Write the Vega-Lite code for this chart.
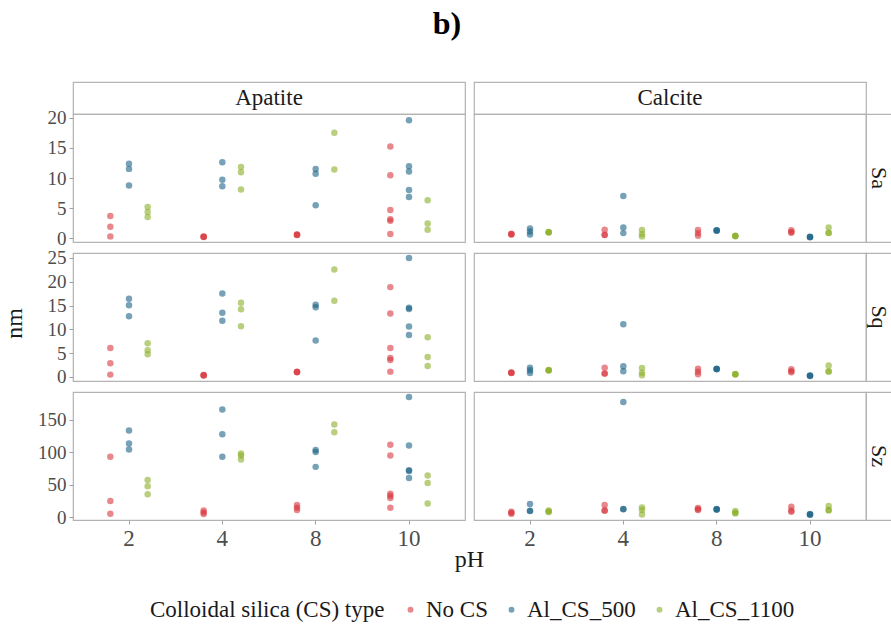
{
"$schema": "https://vega.github.io/schema/vega-lite/v6.json",
"padding": {"left": 1, "top": 8, "right": 0, "bottom": 0},
"title": {"text": "b)", "fontSize": 32, "fontWeight": "bold", "font": "Liberation Serif", "anchor": "middle", "offset": 40, "color": "#000000"},
"datasets": {"pts": [
{"m":"Apatite","v":"Sa","pH":2,"cs":"No CS","nm":3.72},{"m":"Apatite","v":"Sa","pH":2,"cs":"No CS","nm":1.91},{"m":"Apatite","v":"Sa","pH":2,"cs":"No CS","nm":0.33},
{"m":"Apatite","v":"Sa","pH":2,"cs":"Al_CS_500","nm":12.38},{"m":"Apatite","v":"Sa","pH":2,"cs":"Al_CS_500","nm":11.51},{"m":"Apatite","v":"Sa","pH":2,"cs":"Al_CS_500","nm":8.77},
{"m":"Apatite","v":"Sa","pH":2,"cs":"Al_CS_1100","nm":5.2},{"m":"Apatite","v":"Sa","pH":2,"cs":"Al_CS_1100","nm":4.38},{"m":"Apatite","v":"Sa","pH":2,"cs":"Al_CS_1100","nm":3.55},
{"m":"Apatite","v":"Sa","pH":4,"cs":"No CS","nm":0.22},{"m":"Apatite","v":"Sa","pH":4,"cs":"No CS","nm":0.27},{"m":"Apatite","v":"Sa","pH":4,"cs":"No CS","nm":0.3},
{"m":"Apatite","v":"Sa","pH":4,"cs":"Al_CS_500","nm":12.6},{"m":"Apatite","v":"Sa","pH":4,"cs":"Al_CS_500","nm":9.7},{"m":"Apatite","v":"Sa","pH":4,"cs":"Al_CS_500","nm":8.65},
{"m":"Apatite","v":"Sa","pH":4,"cs":"Al_CS_1100","nm":11.84},{"m":"Apatite","v":"Sa","pH":4,"cs":"Al_CS_1100","nm":10.95},{"m":"Apatite","v":"Sa","pH":4,"cs":"Al_CS_1100","nm":8.1},
{"m":"Apatite","v":"Sa","pH":8,"cs":"No CS","nm":0.55},{"m":"Apatite","v":"Sa","pH":8,"cs":"No CS","nm":0.6},{"m":"Apatite","v":"Sa","pH":8,"cs":"No CS","nm":0.65},
{"m":"Apatite","v":"Sa","pH":8,"cs":"Al_CS_500","nm":11.5},{"m":"Apatite","v":"Sa","pH":8,"cs":"Al_CS_500","nm":10.7},{"m":"Apatite","v":"Sa","pH":8,"cs":"Al_CS_500","nm":5.48},
{"m":"Apatite","v":"Sa","pH":8,"cs":"Al_CS_1100","nm":17.5},{"m":"Apatite","v":"Sa","pH":8,"cs":"Al_CS_1100","nm":11.4},
{"m":"Apatite","v":"Sa","pH":10,"cs":"No CS","nm":15.2},{"m":"Apatite","v":"Sa","pH":10,"cs":"No CS","nm":10.46},{"m":"Apatite","v":"Sa","pH":10,"cs":"No CS","nm":4.7},{"m":"Apatite","v":"Sa","pH":10,"cs":"No CS","nm":3.17},{"m":"Apatite","v":"Sa","pH":10,"cs":"No CS","nm":2.9},{"m":"Apatite","v":"Sa","pH":10,"cs":"No CS","nm":0.71},
{"m":"Apatite","v":"Sa","pH":10,"cs":"Al_CS_500","nm":19.57},{"m":"Apatite","v":"Sa","pH":10,"cs":"Al_CS_500","nm":11.94},{"m":"Apatite","v":"Sa","pH":10,"cs":"Al_CS_500","nm":11.07},{"m":"Apatite","v":"Sa","pH":10,"cs":"Al_CS_500","nm":8.0},{"m":"Apatite","v":"Sa","pH":10,"cs":"Al_CS_500","nm":6.84},
{"m":"Apatite","v":"Sa","pH":10,"cs":"Al_CS_1100","nm":6.3},{"m":"Apatite","v":"Sa","pH":10,"cs":"Al_CS_1100","nm":2.47},{"m":"Apatite","v":"Sa","pH":10,"cs":"Al_CS_1100","nm":1.41},

{"m":"Calcite","v":"Sa","pH":2,"cs":"No CS","nm":0.65},{"m":"Calcite","v":"Sa","pH":2,"cs":"No CS","nm":0.7},{"m":"Calcite","v":"Sa","pH":2,"cs":"No CS","nm":0.75},
{"m":"Calcite","v":"Sa","pH":2,"cs":"Al_CS_500","nm":1.64},{"m":"Calcite","v":"Sa","pH":2,"cs":"Al_CS_500","nm":1.15},{"m":"Calcite","v":"Sa","pH":2,"cs":"Al_CS_500","nm":0.66},
{"m":"Calcite","v":"Sa","pH":2,"cs":"Al_CS_1100","nm":0.98},{"m":"Calcite","v":"Sa","pH":2,"cs":"Al_CS_1100","nm":1.02},{"m":"Calcite","v":"Sa","pH":2,"cs":"Al_CS_1100","nm":1.06},
{"m":"Calcite","v":"Sa","pH":4,"cs":"No CS","nm":1.41},{"m":"Calcite","v":"Sa","pH":4,"cs":"No CS","nm":0.54},{"m":"Calcite","v":"Sa","pH":4,"cs":"No CS","nm":0.6},
{"m":"Calcite","v":"Sa","pH":4,"cs":"Al_CS_500","nm":7.0},{"m":"Calcite","v":"Sa","pH":4,"cs":"Al_CS_500","nm":1.81},{"m":"Calcite","v":"Sa","pH":4,"cs":"Al_CS_500","nm":0.87},
{"m":"Calcite","v":"Sa","pH":4,"cs":"Al_CS_1100","nm":1.37},{"m":"Calcite","v":"Sa","pH":4,"cs":"Al_CS_1100","nm":0.71},{"m":"Calcite","v":"Sa","pH":4,"cs":"Al_CS_1100","nm":0.33},
{"m":"Calcite","v":"Sa","pH":8,"cs":"No CS","nm":1.37},{"m":"Calcite","v":"Sa","pH":8,"cs":"No CS","nm":0.87},{"m":"Calcite","v":"Sa","pH":8,"cs":"No CS","nm":0.43},
{"m":"Calcite","v":"Sa","pH":8,"cs":"Al_CS_500","nm":1.25},{"m":"Calcite","v":"Sa","pH":8,"cs":"Al_CS_500","nm":1.3},{"m":"Calcite","v":"Sa","pH":8,"cs":"Al_CS_500","nm":1.35},
{"m":"Calcite","v":"Sa","pH":8,"cs":"Al_CS_1100","nm":0.35},{"m":"Calcite","v":"Sa","pH":8,"cs":"Al_CS_1100","nm":0.38},{"m":"Calcite","v":"Sa","pH":8,"cs":"Al_CS_1100","nm":0.42},
{"m":"Calcite","v":"Sa","pH":10,"cs":"No CS","nm":1.36},{"m":"Calcite","v":"Sa","pH":10,"cs":"No CS","nm":1.05},{"m":"Calcite","v":"Sa","pH":10,"cs":"No CS","nm":0.92},
{"m":"Calcite","v":"Sa","pH":10,"cs":"Al_CS_500","nm":0.2},{"m":"Calcite","v":"Sa","pH":10,"cs":"Al_CS_500","nm":0.24},{"m":"Calcite","v":"Sa","pH":10,"cs":"Al_CS_500","nm":0.28},
{"m":"Calcite","v":"Sa","pH":10,"cs":"Al_CS_1100","nm":1.81},{"m":"Calcite","v":"Sa","pH":10,"cs":"Al_CS_1100","nm":0.87},{"m":"Calcite","v":"Sa","pH":10,"cs":"Al_CS_1100","nm":0.95},

{"m":"Apatite","v":"Sq","pH":2,"cs":"No CS","nm":6.1},{"m":"Apatite","v":"Sq","pH":2,"cs":"No CS","nm":2.88},{"m":"Apatite","v":"Sq","pH":2,"cs":"No CS","nm":0.49},
{"m":"Apatite","v":"Sq","pH":2,"cs":"Al_CS_500","nm":16.42},{"m":"Apatite","v":"Sq","pH":2,"cs":"Al_CS_500","nm":15.09},{"m":"Apatite","v":"Sq","pH":2,"cs":"Al_CS_500","nm":12.78},
{"m":"Apatite","v":"Sq","pH":2,"cs":"Al_CS_1100","nm":7.09},{"m":"Apatite","v":"Sq","pH":2,"cs":"Al_CS_1100","nm":5.61},{"m":"Apatite","v":"Sq","pH":2,"cs":"Al_CS_1100","nm":4.77},
{"m":"Apatite","v":"Sq","pH":4,"cs":"No CS","nm":0.3},{"m":"Apatite","v":"Sq","pH":4,"cs":"No CS","nm":0.35},{"m":"Apatite","v":"Sq","pH":4,"cs":"No CS","nm":0.4},
{"m":"Apatite","v":"Sq","pH":4,"cs":"Al_CS_500","nm":17.55},{"m":"Apatite","v":"Sq","pH":4,"cs":"Al_CS_500","nm":13.47},{"m":"Apatite","v":"Sq","pH":4,"cs":"Al_CS_500","nm":11.8},
{"m":"Apatite","v":"Sq","pH":4,"cs":"Al_CS_1100","nm":15.58},{"m":"Apatite","v":"Sq","pH":4,"cs":"Al_CS_1100","nm":14.24},{"m":"Apatite","v":"Sq","pH":4,"cs":"Al_CS_1100","nm":10.67},
{"m":"Apatite","v":"Sq","pH":8,"cs":"No CS","nm":1.0},{"m":"Apatite","v":"Sq","pH":8,"cs":"No CS","nm":1.05},{"m":"Apatite","v":"Sq","pH":8,"cs":"No CS","nm":1.1},
{"m":"Apatite","v":"Sq","pH":8,"cs":"Al_CS_500","nm":15.16},{"m":"Apatite","v":"Sq","pH":8,"cs":"Al_CS_500","nm":14.67},{"m":"Apatite","v":"Sq","pH":8,"cs":"Al_CS_500","nm":7.65},
{"m":"Apatite","v":"Sq","pH":8,"cs":"Al_CS_1100","nm":22.6},{"m":"Apatite","v":"Sq","pH":8,"cs":"Al_CS_1100","nm":16.0},
{"m":"Apatite","v":"Sq","pH":10,"cs":"No CS","nm":18.88},{"m":"Apatite","v":"Sq","pH":10,"cs":"No CS","nm":13.33},{"m":"Apatite","v":"Sq","pH":10,"cs":"No CS","nm":6.1},{"m":"Apatite","v":"Sq","pH":10,"cs":"No CS","nm":4.0},{"m":"Apatite","v":"Sq","pH":10,"cs":"No CS","nm":3.58},{"m":"Apatite","v":"Sq","pH":10,"cs":"No CS","nm":1.12},
{"m":"Apatite","v":"Sq","pH":10,"cs":"Al_CS_500","nm":25.0},{"m":"Apatite","v":"Sq","pH":10,"cs":"Al_CS_500","nm":14.53},{"m":"Apatite","v":"Sq","pH":10,"cs":"Al_CS_500","nm":14.3},{"m":"Apatite","v":"Sq","pH":10,"cs":"Al_CS_500","nm":10.6},{"m":"Apatite","v":"Sq","pH":10,"cs":"Al_CS_500","nm":8.84},
{"m":"Apatite","v":"Sq","pH":10,"cs":"Al_CS_1100","nm":8.36},{"m":"Apatite","v":"Sq","pH":10,"cs":"Al_CS_1100","nm":4.21},{"m":"Apatite","v":"Sq","pH":10,"cs":"Al_CS_1100","nm":2.32},

{"m":"Calcite","v":"Sq","pH":2,"cs":"No CS","nm":0.85},{"m":"Calcite","v":"Sq","pH":2,"cs":"No CS","nm":0.91},{"m":"Calcite","v":"Sq","pH":2,"cs":"No CS","nm":0.95},
{"m":"Calcite","v":"Sq","pH":2,"cs":"Al_CS_500","nm":1.96},{"m":"Calcite","v":"Sq","pH":2,"cs":"Al_CS_500","nm":1.4},{"m":"Calcite","v":"Sq","pH":2,"cs":"Al_CS_500","nm":0.84},
{"m":"Calcite","v":"Sq","pH":2,"cs":"Al_CS_1100","nm":1.35},{"m":"Calcite","v":"Sq","pH":2,"cs":"Al_CS_1100","nm":1.4},{"m":"Calcite","v":"Sq","pH":2,"cs":"Al_CS_1100","nm":1.45},
{"m":"Calcite","v":"Sq","pH":4,"cs":"No CS","nm":1.96},{"m":"Calcite","v":"Sq","pH":4,"cs":"No CS","nm":0.7},{"m":"Calcite","v":"Sq","pH":4,"cs":"No CS","nm":0.75},
{"m":"Calcite","v":"Sq","pH":4,"cs":"Al_CS_500","nm":11.1},{"m":"Calcite","v":"Sq","pH":4,"cs":"Al_CS_500","nm":2.25},{"m":"Calcite","v":"Sq","pH":4,"cs":"Al_CS_500","nm":1.19},
{"m":"Calcite","v":"Sq","pH":4,"cs":"Al_CS_1100","nm":1.9},{"m":"Calcite","v":"Sq","pH":4,"cs":"Al_CS_1100","nm":0.91},{"m":"Calcite","v":"Sq","pH":4,"cs":"Al_CS_1100","nm":0.35},
{"m":"Calcite","v":"Sq","pH":8,"cs":"No CS","nm":1.75},{"m":"Calcite","v":"Sq","pH":8,"cs":"No CS","nm":1.12},{"m":"Calcite","v":"Sq","pH":8,"cs":"No CS","nm":0.56},
{"m":"Calcite","v":"Sq","pH":8,"cs":"Al_CS_500","nm":1.62},{"m":"Calcite","v":"Sq","pH":8,"cs":"Al_CS_500","nm":1.68},{"m":"Calcite","v":"Sq","pH":8,"cs":"Al_CS_500","nm":1.72},
{"m":"Calcite","v":"Sq","pH":8,"cs":"Al_CS_1100","nm":0.5},{"m":"Calcite","v":"Sq","pH":8,"cs":"Al_CS_1100","nm":0.56},{"m":"Calcite","v":"Sq","pH":8,"cs":"Al_CS_1100","nm":0.6},
{"m":"Calcite","v":"Sq","pH":10,"cs":"No CS","nm":1.61},{"m":"Calcite","v":"Sq","pH":10,"cs":"No CS","nm":1.2},{"m":"Calcite","v":"Sq","pH":10,"cs":"No CS","nm":0.98},
{"m":"Calcite","v":"Sq","pH":10,"cs":"Al_CS_500","nm":0.22},{"m":"Calcite","v":"Sq","pH":10,"cs":"Al_CS_500","nm":0.28},{"m":"Calcite","v":"Sq","pH":10,"cs":"Al_CS_500","nm":0.32},
{"m":"Calcite","v":"Sq","pH":10,"cs":"Al_CS_1100","nm":2.39},{"m":"Calcite","v":"Sq","pH":10,"cs":"Al_CS_1100","nm":1.12},{"m":"Calcite","v":"Sq","pH":10,"cs":"Al_CS_1100","nm":1.2},

{"m":"Apatite","v":"Sz","pH":2,"cs":"No CS","nm":92.8},{"m":"Apatite","v":"Sz","pH":2,"cs":"No CS","nm":24.7},{"m":"Apatite","v":"Sz","pH":2,"cs":"No CS","nm":5.1},
{"m":"Apatite","v":"Sz","pH":2,"cs":"Al_CS_500","nm":133.4},{"m":"Apatite","v":"Sz","pH":2,"cs":"Al_CS_500","nm":113.3},{"m":"Apatite","v":"Sz","pH":2,"cs":"Al_CS_500","nm":104.1},
{"m":"Apatite","v":"Sz","pH":2,"cs":"Al_CS_1100","nm":57.2},{"m":"Apatite","v":"Sz","pH":2,"cs":"Al_CS_1100","nm":47.3},{"m":"Apatite","v":"Sz","pH":2,"cs":"Al_CS_1100","nm":35.0},
{"m":"Apatite","v":"Sz","pH":4,"cs":"No CS","nm":10.2},{"m":"Apatite","v":"Sz","pH":4,"cs":"No CS","nm":7.1},{"m":"Apatite","v":"Sz","pH":4,"cs":"No CS","nm":4.6},
{"m":"Apatite","v":"Sz","pH":4,"cs":"Al_CS_500","nm":165.9},{"m":"Apatite","v":"Sz","pH":4,"cs":"Al_CS_500","nm":127.7},{"m":"Apatite","v":"Sz","pH":4,"cs":"Al_CS_500","nm":92.8},
{"m":"Apatite","v":"Sz","pH":4,"cs":"Al_CS_1100","nm":97.9},{"m":"Apatite","v":"Sz","pH":4,"cs":"Al_CS_1100","nm":94.8},{"m":"Apatite","v":"Sz","pH":4,"cs":"Al_CS_1100","nm":88.6},
{"m":"Apatite","v":"Sz","pH":8,"cs":"No CS","nm":18.6},{"m":"Apatite","v":"Sz","pH":8,"cs":"No CS","nm":14.4},{"m":"Apatite","v":"Sz","pH":8,"cs":"No CS","nm":10.8},
{"m":"Apatite","v":"Sz","pH":8,"cs":"Al_CS_500","nm":103.2},{"m":"Apatite","v":"Sz","pH":8,"cs":"Al_CS_500","nm":100.3},{"m":"Apatite","v":"Sz","pH":8,"cs":"Al_CS_500","nm":77.3},
{"m":"Apatite","v":"Sz","pH":8,"cs":"Al_CS_1100","nm":142.7},{"m":"Apatite","v":"Sz","pH":8,"cs":"Al_CS_1100","nm":130.8},
{"m":"Apatite","v":"Sz","pH":10,"cs":"No CS","nm":111.3},{"m":"Apatite","v":"Sz","pH":10,"cs":"No CS","nm":94.8},{"m":"Apatite","v":"Sz","pH":10,"cs":"No CS","nm":36.0},{"m":"Apatite","v":"Sz","pH":10,"cs":"No CS","nm":32.9},{"m":"Apatite","v":"Sz","pH":10,"cs":"No CS","nm":29.4},{"m":"Apatite","v":"Sz","pH":10,"cs":"No CS","nm":14.4},
{"m":"Apatite","v":"Sz","pH":10,"cs":"Al_CS_500","nm":185.0},{"m":"Apatite","v":"Sz","pH":10,"cs":"Al_CS_500","nm":110.3},{"m":"Apatite","v":"Sz","pH":10,"cs":"Al_CS_500","nm":72.0},{"m":"Apatite","v":"Sz","pH":10,"cs":"Al_CS_500","nm":71.0},{"m":"Apatite","v":"Sz","pH":10,"cs":"Al_CS_500","nm":60.3},
{"m":"Apatite","v":"Sz","pH":10,"cs":"Al_CS_1100","nm":63.9},{"m":"Apatite","v":"Sz","pH":10,"cs":"Al_CS_1100","nm":52.6},{"m":"Apatite","v":"Sz","pH":10,"cs":"Al_CS_1100","nm":21.0},

{"m":"Calcite","v":"Sz","pH":2,"cs":"No CS","nm":5.0},{"m":"Calcite","v":"Sz","pH":2,"cs":"No CS","nm":6.6},{"m":"Calcite","v":"Sz","pH":2,"cs":"No CS","nm":8.0},
{"m":"Calcite","v":"Sz","pH":2,"cs":"Al_CS_500","nm":20.1},{"m":"Calcite","v":"Sz","pH":2,"cs":"Al_CS_500","nm":9.3},{"m":"Calcite","v":"Sz","pH":2,"cs":"Al_CS_500","nm":9.8},
{"m":"Calcite","v":"Sz","pH":2,"cs":"Al_CS_1100","nm":10.2},{"m":"Calcite","v":"Sz","pH":2,"cs":"Al_CS_1100","nm":7.7},{"m":"Calcite","v":"Sz","pH":2,"cs":"Al_CS_1100","nm":8.5},
{"m":"Calcite","v":"Sz","pH":4,"cs":"No CS","nm":18.6},{"m":"Calcite","v":"Sz","pH":4,"cs":"No CS","nm":9.7},{"m":"Calcite","v":"Sz","pH":4,"cs":"No CS","nm":10.5},
{"m":"Calcite","v":"Sz","pH":4,"cs":"Al_CS_500","nm":177.2},{"m":"Calcite","v":"Sz","pH":4,"cs":"Al_CS_500","nm":11.8},{"m":"Calcite","v":"Sz","pH":4,"cs":"Al_CS_500","nm":12.3},
{"m":"Calcite","v":"Sz","pH":4,"cs":"Al_CS_1100","nm":14.8},{"m":"Calcite","v":"Sz","pH":4,"cs":"Al_CS_1100","nm":10.8},{"m":"Calcite","v":"Sz","pH":4,"cs":"Al_CS_1100","nm":4.0},
{"m":"Calcite","v":"Sz","pH":8,"cs":"No CS","nm":13.9},{"m":"Calcite","v":"Sz","pH":8,"cs":"No CS","nm":10.8},{"m":"Calcite","v":"Sz","pH":8,"cs":"No CS","nm":12.0},
{"m":"Calcite","v":"Sz","pH":8,"cs":"Al_CS_500","nm":11.2},{"m":"Calcite","v":"Sz","pH":8,"cs":"Al_CS_500","nm":11.8},{"m":"Calcite","v":"Sz","pH":8,"cs":"Al_CS_500","nm":12.4},
{"m":"Calcite","v":"Sz","pH":8,"cs":"Al_CS_1100","nm":9.3},{"m":"Calcite","v":"Sz","pH":8,"cs":"Al_CS_1100","nm":5.6},{"m":"Calcite","v":"Sz","pH":8,"cs":"Al_CS_1100","nm":6.5},
{"m":"Calcite","v":"Sz","pH":10,"cs":"No CS","nm":15.9},{"m":"Calcite","v":"Sz","pH":10,"cs":"No CS","nm":8.2},{"m":"Calcite","v":"Sz","pH":10,"cs":"No CS","nm":10.0},
{"m":"Calcite","v":"Sz","pH":10,"cs":"Al_CS_500","nm":3.5},{"m":"Calcite","v":"Sz","pH":10,"cs":"Al_CS_500","nm":4.0},{"m":"Calcite","v":"Sz","pH":10,"cs":"Al_CS_500","nm":4.5},
{"m":"Calcite","v":"Sz","pH":10,"cs":"Al_CS_1100","nm":17.0},{"m":"Calcite","v":"Sz","pH":10,"cs":"Al_CS_1100","nm":10.2},{"m":"Calcite","v":"Sz","pH":10,"cs":"Al_CS_1100","nm":11.0}
]},
"columns": 4,
"spacing": 0,
"bounds": "flush",
"align": "each",
"concat": [
 {"width": 392, "height": 32, "data": {"values": [{"lab": "Apatite"}]}, "mark": {"type": "text", "fontSize": 23, "font": "Liberation Serif", "color": "#1a1a1a"}, "encoding": {"text": {"field": "lab"}, "x": {"field": "lab", "type": "nominal", "axis": null}, "y": {"field": "lab", "type": "nominal", "axis": null}}},
 {"width": 9, "height": 32, "data": {"values": []}, "mark": "text", "encoding": {}, "view": {"stroke": null}},
 {"width": 392, "height": 32, "data": {"values": [{"lab": "Calcite"}]}, "mark": {"type": "text", "fontSize": 23, "font": "Liberation Serif", "color": "#1a1a1a"}, "encoding": {"text": {"field": "lab"}, "x": {"field": "lab", "type": "nominal", "axis": null}, "y": {"field": "lab", "type": "nominal", "axis": null}}},
 {"width": 26, "height": 32, "data": {"values": []}, "mark": "text", "encoding": {}, "view": {"stroke": null}},

 {"width": 392, "height": 128, "data": {"name": "pts"},
  "transform": [{"filter": "datum.m == 'Apatite' && datum.v == 'Sa'"}],
  "mark": {"type": "circle", "size": 42, "opacity": 0.6},
  "encoding": {
    "x": {"field": "pH", "type": "ordinal", "scale": {"type": "band", "domain": [2, 4, 8, 10], "paddingInner": 0, "paddingOuter": 0.1}, "axis": null},
    "xOffset": {"field": "cs", "type": "nominal", "scale": {"type": "band", "domain": ["No CS", "Al_CS_500", "Al_CS_1100"], "paddingInner": 0, "paddingOuter": 1.5}},
    "y": {"field": "nm", "type": "quantitative", "scale": {"domain": [-0.6, 20.6], "nice": false, "zero": false}, "axis": {"title": null, "values": [0, 5, 10, 15, 20]}},
    "color": {"field": "cs", "type": "nominal", "scale": {"domain": ["No CS", "Al_CS_500", "Al_CS_1100"], "range": ["#d8393f", "#1b6285", "#8aaf28"]},
      "legend": {"orient": "none", "legendX": 77, "legendY": 516, "direction": "horizontal", "titleOrient": "left", "title": "Colloidal silica (CS) type"}}
  }},
 {"width": 9, "height": 128, "data": {"values": []}, "mark": "text", "encoding": {}, "view": {"stroke": null}},
 {"width": 392, "height": 128, "data": {"name": "pts"},
  "transform": [{"filter": "datum.m == 'Calcite' && datum.v == 'Sa'"}],
  "mark": {"type": "circle", "size": 42, "opacity": 0.6},
  "encoding": {
    "x": {"field": "pH", "type": "ordinal", "scale": {"type": "band", "domain": [2, 4, 8, 10], "paddingInner": 0, "paddingOuter": 0.1}, "axis": null},
    "xOffset": {"field": "cs", "type": "nominal", "scale": {"type": "band", "domain": ["No CS", "Al_CS_500", "Al_CS_1100"], "paddingInner": 0, "paddingOuter": 1.5}},
    "y": {"field": "nm", "type": "quantitative", "scale": {"domain": [-0.6, 20.6], "nice": false, "zero": false}, "axis": null},
    "color": {"field": "cs", "type": "nominal", "scale": {"domain": ["No CS", "Al_CS_500", "Al_CS_1100"], "range": ["#d8393f", "#1b6285", "#8aaf28"]},
      "legend": {"orient": "none", "legendX": 77, "legendY": 516, "direction": "horizontal", "titleOrient": "left", "title": "Colloidal silica (CS) type"}}
  }},
 {"width": 26, "height": 128, "data": {"values": [{"lab": "Sa"}]}, "mark": {"type": "text", "fontSize": 22, "font": "Liberation Serif", "color": "#1a1a1a", "angle": 90}, "encoding": {"text": {"field": "lab"}, "x": {"field": "lab", "type": "nominal", "axis": null}, "y": {"field": "lab", "type": "nominal", "axis": null}}},

 {"width": 392, "height": 10.5, "data": {"values": []}, "mark": "text", "encoding": {}, "view": {"stroke": null}},
 {"width": 9, "height": 10.5, "data": {"values": []}, "mark": "text", "encoding": {}, "view": {"stroke": null}},
 {"width": 392, "height": 10.5, "data": {"values": []}, "mark": "text", "encoding": {}, "view": {"stroke": null}},
 {"width": 26, "height": 10.5, "data": {"values": []}, "mark": "text", "encoding": {}, "view": {"stroke": null}},

 {"width": 392, "height": 128, "data": {"name": "pts"},
  "transform": [{"filter": "datum.m == 'Apatite' && datum.v == 'Sq'"}],
  "mark": {"type": "circle", "size": 42, "opacity": 0.6},
  "encoding": {
    "x": {"field": "pH", "type": "ordinal", "scale": {"type": "band", "domain": [2, 4, 8, 10], "paddingInner": 0, "paddingOuter": 0.1}, "axis": null},
    "xOffset": {"field": "cs", "type": "nominal", "scale": {"type": "band", "domain": ["No CS", "Al_CS_500", "Al_CS_1100"], "paddingInner": 0, "paddingOuter": 1.5}},
    "y": {"field": "nm", "type": "quantitative", "scale": {"domain": [-0.85, 26.05], "nice": false, "zero": false}, "axis": {"title": "nm", "titlePadding": 21, "titleY": 70, "titleFontSize": 24, "values": [0, 5, 10, 15, 20, 25]}},
    "color": {"field": "cs", "type": "nominal", "scale": {"domain": ["No CS", "Al_CS_500", "Al_CS_1100"], "range": ["#d8393f", "#1b6285", "#8aaf28"]},
      "legend": {"orient": "none", "legendX": 77, "legendY": 516, "direction": "horizontal", "titleOrient": "left", "title": "Colloidal silica (CS) type"}}
  }},
 {"width": 9, "height": 128, "data": {"values": []}, "mark": "text", "encoding": {}, "view": {"stroke": null}},
 {"width": 392, "height": 128, "data": {"name": "pts"},
  "transform": [{"filter": "datum.m == 'Calcite' && datum.v == 'Sq'"}],
  "mark": {"type": "circle", "size": 42, "opacity": 0.6},
  "encoding": {
    "x": {"field": "pH", "type": "ordinal", "scale": {"type": "band", "domain": [2, 4, 8, 10], "paddingInner": 0, "paddingOuter": 0.1}, "axis": null},
    "xOffset": {"field": "cs", "type": "nominal", "scale": {"type": "band", "domain": ["No CS", "Al_CS_500", "Al_CS_1100"], "paddingInner": 0, "paddingOuter": 1.5}},
    "y": {"field": "nm", "type": "quantitative", "scale": {"domain": [-0.85, 26.05], "nice": false, "zero": false}, "axis": null},
    "color": {"field": "cs", "type": "nominal", "scale": {"domain": ["No CS", "Al_CS_500", "Al_CS_1100"], "range": ["#d8393f", "#1b6285", "#8aaf28"]},
      "legend": {"orient": "none", "legendX": 77, "legendY": 516, "direction": "horizontal", "titleOrient": "left", "title": "Colloidal silica (CS) type"}}
  }},
 {"width": 26, "height": 128, "data": {"values": [{"lab": "Sq"}]}, "mark": {"type": "text", "fontSize": 22, "font": "Liberation Serif", "color": "#1a1a1a", "angle": 90}, "encoding": {"text": {"field": "lab"}, "x": {"field": "lab", "type": "nominal", "axis": null}, "y": {"field": "lab", "type": "nominal", "axis": null}}},

 {"width": 392, "height": 10.5, "data": {"values": []}, "mark": "text", "encoding": {}, "view": {"stroke": null}},
 {"width": 9, "height": 10.5, "data": {"values": []}, "mark": "text", "encoding": {}, "view": {"stroke": null}},
 {"width": 392, "height": 10.5, "data": {"values": []}, "mark": "text", "encoding": {}, "view": {"stroke": null}},
 {"width": 26, "height": 10.5, "data": {"values": []}, "mark": "text", "encoding": {}, "view": {"stroke": null}},

 {"width": 392, "height": 128, "data": {"name": "pts"},
  "transform": [{"filter": "datum.m == 'Apatite' && datum.v == 'Sz'"}],
  "mark": {"type": "circle", "size": 42, "opacity": 0.6},
  "encoding": {
    "x": {"field": "pH", "type": "ordinal", "scale": {"type": "band", "domain": [2, 4, 8, 10], "paddingInner": 0, "paddingOuter": 0.1}, "axis": {"title": "pH", "titleX": 396, "titlePadding": -3, "titleFontSize": 24}},
    "xOffset": {"field": "cs", "type": "nominal", "scale": {"type": "band", "domain": ["No CS", "Al_CS_500", "Al_CS_1100"], "paddingInner": 0, "paddingOuter": 1.5}},
    "y": {"field": "nm", "type": "quantitative", "scale": {"domain": [-4.6, 192.7], "nice": false, "zero": false}, "axis": {"title": null, "values": [0, 50, 100, 150]}},
    "color": {"field": "cs", "type": "nominal", "scale": {"domain": ["No CS", "Al_CS_500", "Al_CS_1100"], "range": ["#d8393f", "#1b6285", "#8aaf28"]},
      "legend": {"orient": "none", "legendX": 77, "legendY": 516, "direction": "horizontal", "titleOrient": "left", "title": "Colloidal silica (CS) type"}}
  }},
 {"width": 9, "height": 128, "data": {"values": []}, "mark": "text", "encoding": {}, "view": {"stroke": null}},
 {"width": 392, "height": 128, "data": {"name": "pts"},
  "transform": [{"filter": "datum.m == 'Calcite' && datum.v == 'Sz'"}],
  "mark": {"type": "circle", "size": 42, "opacity": 0.6},
  "encoding": {
    "x": {"field": "pH", "type": "ordinal", "scale": {"type": "band", "domain": [2, 4, 8, 10], "paddingInner": 0, "paddingOuter": 0.1}, "axis": {"title": null}},
    "xOffset": {"field": "cs", "type": "nominal", "scale": {"type": "band", "domain": ["No CS", "Al_CS_500", "Al_CS_1100"], "paddingInner": 0, "paddingOuter": 1.5}},
    "y": {"field": "nm", "type": "quantitative", "scale": {"domain": [-4.6, 192.7], "nice": false, "zero": false}, "axis": null},
    "color": {"field": "cs", "type": "nominal", "scale": {"domain": ["No CS", "Al_CS_500", "Al_CS_1100"], "range": ["#d8393f", "#1b6285", "#8aaf28"]},
      "legend": {"orient": "none", "legendX": 77, "legendY": 516, "direction": "horizontal", "titleOrient": "left", "title": "Colloidal silica (CS) type"}}
  }},
 {"width": 26, "height": 128, "data": {"values": [{"lab": "Sz"}]}, "mark": {"type": "text", "fontSize": 22, "font": "Liberation Serif", "color": "#1a1a1a", "angle": 90}, "encoding": {"text": {"field": "lab"}, "x": {"field": "lab", "type": "nominal", "axis": null}, "y": {"field": "lab", "type": "nominal", "axis": null}}}
],
"resolve": {"scale": {"color": "shared"}, "legend": {"color": "shared"}},
"config": {
  "font": "Liberation Serif",
  "view": {"stroke": "#b3b3b3", "strokeWidth": 1.2},
  "axis": {"grid": false, "domain": false, "labelFont": "Liberation Serif", "labelFontSize": 19, "labelColor": "#4d4d4d", "tickColor": "#a0a0a0", "tickSize": 4, "labelPadding": 3, "titleFont": "Liberation Serif", "titleFontSize": 20, "titleFontWeight": "normal", "titleColor": "#1a1a1a"},
  "axisX": {"labelAngle": 0, "labelFontSize": 23},
  "legend": {"titleFont": "Liberation Serif", "titleFontSize": 23, "titleFontWeight": "normal", "titleColor": "#1a1a1a", "titleLimit": 400, "labelFont": "Liberation Serif", "labelFontSize": 23, "labelColor": "#1a1a1a", "labelLimit": 300, "symbolSize": 35, "symbolType": "circle", "titlePadding": 14, "labelOffset": 4, "columnPadding": 12}
}
}
